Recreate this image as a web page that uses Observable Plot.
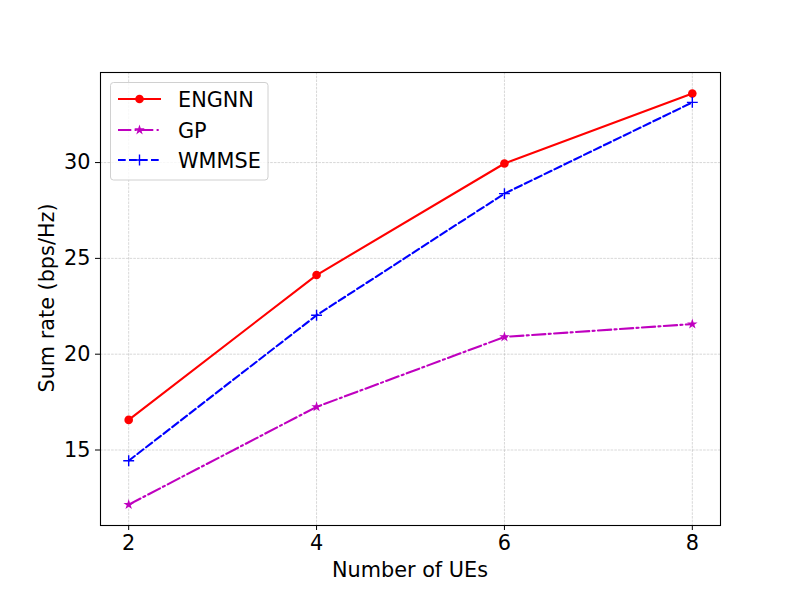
<!DOCTYPE html>
<html><head><meta charset="utf-8">
<script src="https://cdn.jsdelivr.net/npm/d3@7"></script>
<script src="https://cdn.jsdelivr.net/npm/@observablehq/plot@0.6"></script>
<style>
body{margin:0;background:#fff;font-family:"DejaVu Sans",sans-serif;}
#wrap{position:relative;width:800px;height:600px;}
</style></head><body><div id="wrap"></div>
<script>
const ues = [2, 4, 6, 8];
const engnn = [16.57, 24.13, 29.95, 33.6];
const gp = [12.15, 17.25, 20.9, 21.57];
const wmmse = [14.44, 22.03, 28.38, 33.14];
const xTicks = [2, 4, 6, 8];
const yTicks = [15, 20, 25, 30];
const seriesNames = ["ENGNN", "GP", "WMMSE"];

const styles = {
  ENGNN: {color: "#ff0000", dash: null, symbol: "circle", fill: true, r: 4.3},
  GP: {color: "#bf00bf", dash: "13.3,3.3,2.1,3.3", symbol: "star", fill: true, r: 3.3},
  WMMSE: {color: "#0000ff", dash: "7.7,3.3", symbol: "plus", fill: false, r: 3.6}
};
const values = {ENGNN: engnn, GP: gp, WMMSE: wmmse};
const rows = seriesNames.flatMap(s => ues.map((u, i) => ({series: s, x: u, y: values[s][i]})));
const FS = 20.8;

const marks = [
  Plot.ruleX(xTicks, {stroke: "#b0b0b0", strokeWidth: 0.7, strokeDasharray: "2.6,1.1", strokeOpacity: 0.7}),
  Plot.ruleY(yTicks, {stroke: "#b0b0b0", strokeWidth: 0.7, strokeDasharray: "2.6,1.1", strokeOpacity: 0.7}),
];
for (const s of seriesNames) {
  const st = styles[s];
  const d = rows.filter(r => r.series === s);
  marks.push(Plot.line(d, {x: "x", y: "y", stroke: st.color, strokeWidth: 2.1, strokeDasharray: st.dash}));
  if (st.fill) marks.push(Plot.dot(d, {x: "x", y: "y", symbol: st.symbol, fill: st.color, stroke: "none", r: st.r}));
  else marks.push(Plot.dot(d, {x: "x", y: "y", symbol: st.symbol, stroke: st.color, strokeWidth: 1.4, r: st.r}));
}
marks.push(Plot.frame({stroke: "#000", strokeWidth: 1.1}));
marks.push(Plot.axisX({ticks: xTicks, tickFormat: d => String(d), tickSize: 5, tickPadding: 5, fontSize: FS, label: null}));
marks.push(Plot.axisY({ticks: yTicks, tickFormat: d => String(d), tickSize: 5, tickPadding: 5, fontSize: FS, label: null}));

const chart = Plot.plot({
  width: 800, height: 600,
  marginLeft: 100, marginRight: 80, marginTop: 72, marginBottom: 75,
  style: {fontFamily: "DejaVu Sans, sans-serif", fontSize: FS + "px", color: "#000", background: "#fff"},
  x: {domain: [1.7, 8.3]},
  y: {domain: [11.06, 34.7]},
  marks
});
document.getElementById("wrap").appendChild(chart);

const svg = d3.select(chart);
// axis titles
svg.append("text").attr("x", 410).attr("y", 577).attr("text-anchor", "middle")
  .attr("font-size", FS).attr("font-family", "DejaVu Sans, sans-serif").attr("fill", "#000").text("Number of UEs");
svg.append("text").attr("transform", "translate(54,298) rotate(-90)").attr("text-anchor", "middle")
  .attr("font-size", FS).attr("font-family", "DejaVu Sans, sans-serif").attr("fill", "#000").text("Sum rate (bps/Hz)");

// legend
const lg = svg.append("g");
lg.append("rect").attr("x", 110.5).attr("y", 82.5).attr("width", 157.5).attr("height", 97.5)
  .attr("rx", 3).attr("fill", "#fff").attr("fill-opacity", 0.8).attr("stroke", "#d0d0d0").attr("stroke-width", 1);
const rowY = [99, 130, 160];
seriesNames.forEach((s, i) => {
  const st = styles[s];
  const y = rowY[i];
  lg.append("line").attr("x1", 118).attr("x2", 161).attr("y1", y).attr("y2", y)
    .attr("stroke", st.color).attr("stroke-width", 2.1).attr("stroke-dasharray", st.dash);
  const sym = d3.symbol(st.symbol === "circle" ? d3.symbolCircle : st.symbol === "star" ? d3.symbolStar : d3.symbolPlus,
    Math.PI * st.r * st.r)();
  lg.append("path").attr("d", sym).attr("transform", `translate(139.5,${y})`)
    .attr("fill", st.fill ? st.color : "none").attr("stroke", st.fill ? "none" : st.color).attr("stroke-width", 1.4);
  lg.append("text").attr("x", 178).attr("y", y + 7.5).attr("font-size", FS).attr("text-anchor", "start")
    .attr("font-family", "DejaVu Sans, sans-serif").attr("fill", "#000").text(s);
});
</script></body></html>
